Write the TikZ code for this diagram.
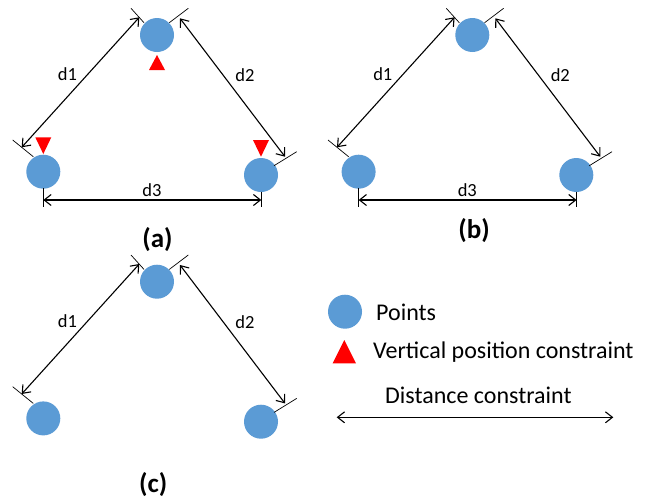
\documentclass[tikz,border=0pt]{standalone}
\usepackage{fontspec}
\setmainfont{Carlito}
\usetikzlibrary{arrows.meta}
\definecolor{ptblue}{HTML}{5B9BD5}
\tikzset{
  ptnode/.style={circle,fill=ptblue,minimum size=34pt,inner sep=0pt},
  dimarrow/.style={{Straight Barb[length=7pt,width=11pt]}-{Straight Barb[length=7pt,width=11pt]},line width=1.1pt},
  dimtick/.style={line width=0.7pt},
  lbl/.style={font=\fontsize{18.5}{22}\selectfont,inner sep=0pt},
  capt/.style={font=\fontsize{27}{32}\selectfont\bfseries,inner sep=0pt},
  legtext/.style={font=\fontsize{24}{28}\selectfont,inner sep=0pt,anchor=west},
}
\newcommand\trio[3]{%
\begin{scope}[shift={(#2,#3)}]
  \node[ptnode] (#1T) at (157,35) {};
  \node[ptnode] (#1L) at (43.3,171.7) {};
  \node[ptnode] (#1R) at (261,175) {};
  \coordinate (#1tl) at (139.3,17.3);
  \coordinate (#1bl) at (21.7,147.3);
  \coordinate (#1tr) at (180,18.3);
  \coordinate (#1br) at (285,156.7);
  \draw[dimarrow] (#1bl) -- (#1tl);
  \draw[dimarrow] (#1tr) -- (#1br);
  \draw[dimtick] (131,8.3) -- (144,22.7);
  \draw[dimtick] (169.3,22.7) -- (188.3,8.3);
  \draw[dimtick] (12.7,140) -- (33.3,156.7);
  \draw[dimtick] (274,165.7) -- (296.7,151.7);
  \node[lbl] (#1d1) at (67.5,74) {d1};
  \node[lbl] (#1d2) at (245,75) {d2};
\end{scope}}
\newcommand\dthree[3]{%
\begin{scope}[shift={(#2,#3)}]
  \coordinate (#1dl) at (43.3,200);
  \coordinate (#1dr) at (261.3,200);
  \draw[dimarrow] (#1dl) -- (#1dr);
  \draw[dimtick] (43.3,188.3) -- (43.3,206.7);
  \draw[dimtick] (261.3,191.7) -- (261.3,206.7);
  \node[lbl] (#1d3) at (152,190) {d3};
\end{scope}}
\begin{document}
\begin{tikzpicture}[x=1pt,y=-1pt]
\useasboundingbox (0,0) rectangle (652,501);
\fill[white] (0,0) rectangle (652,501);
% panel (a)
\trio{a}{0}{0}
\dthree{a}{0}{0}
\fill[red] (149,70) -- (165,70) -- (157,55) -- cycle;
\fill[red] (35.3,137.3) -- (51.3,137.3) -- (43.3,154) -- cycle;
\fill[red] (253,140) -- (269,140) -- (261,156.7) -- cycle;
\node[capt] (capa) at (157.5,240) {(a)};
% panel (b)
\trio{b}{315.3}{0}
\dthree{b}{315.3}{0}
\node[capt] (capb) at (474,231) {(b)};
% panel (c)
\trio{c}{0}{246.7}
\node[capt] (capc) at (153.3,485) {(c)};
% legend
\node[ptnode] (legpt) at (345,311.7) {};
\node[legtext] (legpts) at (376,312.3) {Points};
\fill[red] (332.7,363.3) -- (356,363.3) -- (344.3,340) -- cycle;
\node[legtext] (legvpc) at (373,351.7) {Vertical position constraint};
\node[legtext] (legdc) at (385,395) {Distance constraint};
\coordinate (legl) at (336.7,417.3);
\coordinate (legr) at (613.3,417.3);
\draw[dimarrow] (legl) -- (legr);
\end{tikzpicture}
\end{document}
